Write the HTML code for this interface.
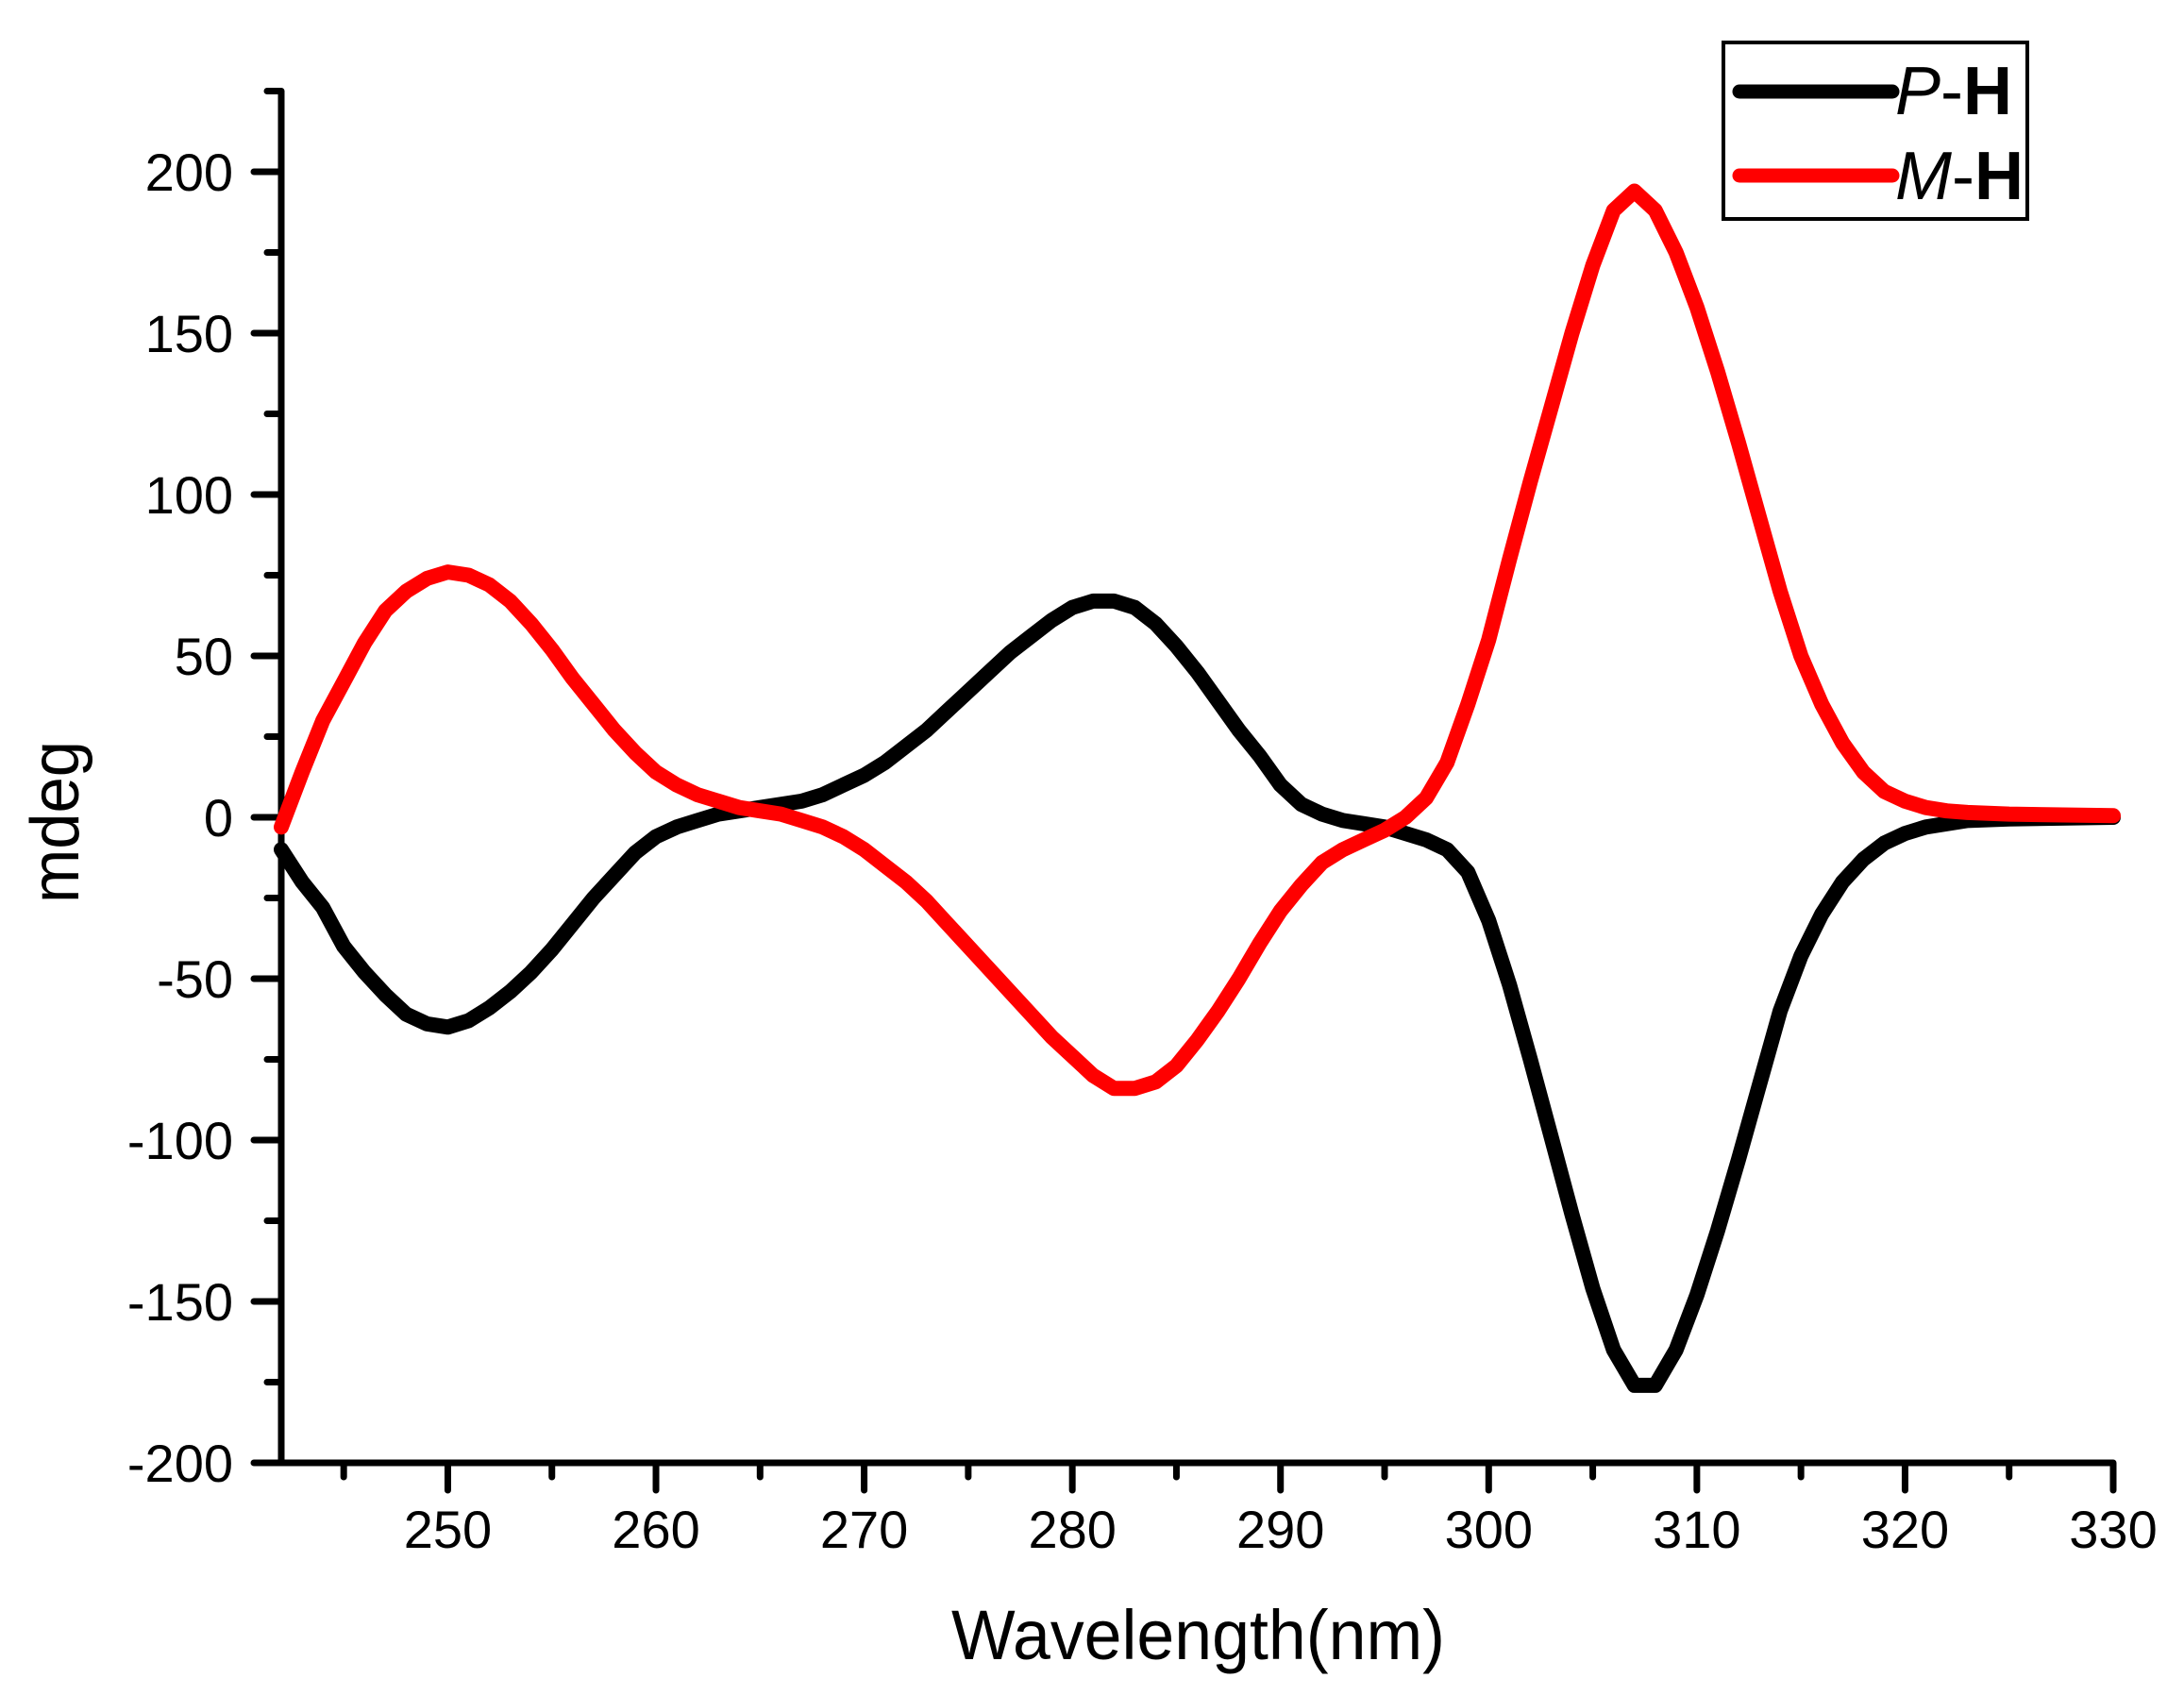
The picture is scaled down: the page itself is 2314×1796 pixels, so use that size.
<!DOCTYPE html>
<html><head><meta charset="utf-8"><style>html,body{margin:0;padding:0;background:#fff;}svg{display:block}</style></head>
<body>
<svg id="s" width="2314" height="1796" viewBox="0 0 2314 1796" xmlns="http://www.w3.org/2000/svg" font-family="Liberation Sans, sans-serif">
<rect width="2314" height="1796" fill="#fff"/>
<g id="ticks" stroke="#000" stroke-width="7" stroke-linecap="round"></g>
<line x1="298" y1="96" x2="298" y2="1550" stroke="#000" stroke-width="7"/>
<line x1="298" y1="1550" x2="2239" y2="1550" stroke="#000" stroke-width="7"/>
<g id="labels" font-size="56" fill="#000"></g>
<polyline id="pb" fill="none" stroke="#000" stroke-width="16" stroke-linejoin="round" stroke-linecap="round"/>
<polyline id="pr" fill="none" stroke="#f00" stroke-width="16" stroke-linejoin="round" stroke-linecap="round"/>
<text x="1008" y="1758" font-size="74" textLength="523" lengthAdjust="spacingAndGlyphs">Wavelength(nm)</text>
<text transform="translate(83,957) rotate(-90)" font-size="72" textLength="172" lengthAdjust="spacingAndGlyphs">mdeg</text>
<rect x="1826" y="45" width="322" height="187" fill="#fff" stroke="#000" stroke-width="4"/>
<line x1="1843" y1="97" x2="2005" y2="97" stroke="#000" stroke-width="15" stroke-linecap="round"/>
<line x1="1843" y1="186" x2="2005" y2="186" stroke="#f00" stroke-width="15" stroke-linecap="round"/>
<text x="2008" y="121" font-size="72"><tspan font-style="italic">P</tspan>-<tspan font-weight="bold">H</tspan></text>
<text x="2008" y="211" font-size="72"><tspan font-style="italic">M</tspan>-<tspan font-weight="bold">H</tspan></text>
</svg>
<script>
var X=function(n){return 298+(n-242)*(1941/88);};
var Y=function(v){return 866-v*3.42;};
var t=document.getElementById('ticks'),L=document.getElementById('labels'),ns='http://www.w3.org/2000/svg';
function ln(a,b,c,d){var e=document.createElementNS(ns,'line');e.setAttribute('x1',a);e.setAttribute('y1',b);e.setAttribute('x2',c);e.setAttribute('y2',d);t.appendChild(e);}
function tx(x,y,s,anc){var e=document.createElementNS(ns,'text');e.setAttribute('x',x);e.setAttribute('y',y);e.setAttribute('text-anchor',anc);e.textContent=s;L.appendChild(e);}
for(var v=-200;v<=225;v+=25){var y=Y(v);var maj=(v%50==0);ln(298,y,maj?269:283,y);if(maj)tx(247,y+20,String(v),'end');}
for(var n=245;n<=330;n+=5){var x=X(n);var maj=(n%10==0);ln(x,1550,x,maj?1579:1565);if(maj)tx(x,1640,String(n),'middle');}
var B={242:-10,243:-20,244:-28,245:-40,246:-48,247:-55,248:-61,249:-64,250:-65,251:-63,252:-59,253:-54,254:-48,255:-41,256:-33,257:-25,258:-18,259:-11,260:-6,261:-3,262:-1,263:1,264:2,265:3,266:4,267:5,268:7,269:10,270:13,271:17,272:22,273:27,274:33,275:39,276:45,277:51,278:56,279:61,280:65,281:67,282:67,283:65,284:60,285:53,286:45,287:36,288:27,289:19,290:10,291:4,292:1,293:-1,294:-2,295:-3,296:-5,297:-7,298:-10,299:-17,300:-32,301:-52,302:-75,303:-99,304:-123,305:-146,306:-165,307:-176,308:-176,309:-165,310:-148,311:-128,312:-106,313:-83,314:-60,315:-43,316:-30,317:-20,318:-13,319:-8,320:-5,321:-3,322:-2,323:-1,325:-0.5,330:0};
var R={242:-3,243:14,244:30,245:42,246:54,247:64,248:70,249:74,250:76,251:75,252:72,253:67,254:60,255:52,256:43,257:35,258:27,259:20,260:14,261:10,262:7,263:5,264:3,265:2,266:1,267:-1,268:-3,269:-6,270:-10,271:-15,272:-20,273:-26,274:-33,275:-40,276:-47,277:-54,278:-61,279:-68,280:-74,281:-80,282:-84,283:-84,284:-82,285:-77,286:-69,287:-60,288:-50,289:-39,290:-29,291:-21,292:-14,293:-10,294:-7,295:-4,296:0,297:6,298:17,299:35,300:55,301:80,302:104,303:127,304:150,305:171,306:188,307:194,308:188,309:175,310:158,311:138,312:116,313:93,314:70,315:50,316:35,317:23,318:14,319:8,320:5,321:3,322:2,323:1.5,325:1,330:0.5};
function pts(D){var a=[];Object.keys(D).map(Number).sort(function(p,q){return p-q}).forEach(function(k){a.push(X(k).toFixed(1)+','+Y(D[k]).toFixed(1));});return a.join(' ');}
document.getElementById('pb').setAttribute('points',pts(B));
document.getElementById('pr').setAttribute('points',pts(R));
</script>
</body></html>
